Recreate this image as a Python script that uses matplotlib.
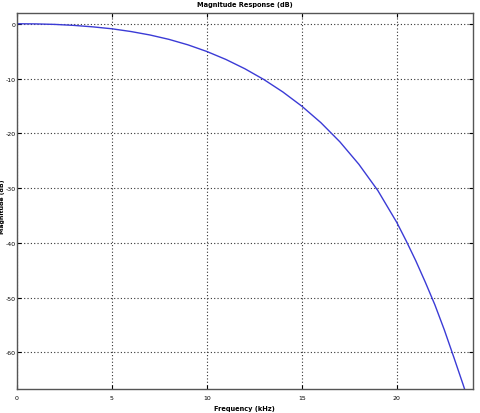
import numpy as np
import matplotlib
matplotlib.use("Agg")
import matplotlib.pyplot as plt

# magnitude response
freq_khz = [0, 1, 2, 3, 4, 5, 6, 7, 8, 9, 10, 11, 12, 13, 14, 15, 16, 17,
            18, 19, 20, 20.5, 21, 21.5, 22, 22.5, 23, 23.5, 23.8]
mag_db = [0, -0.03, -0.12, -0.30, -0.57, -0.92, -1.42, -2.05, -2.85, -3.85,
          -5.07, -6.52, -8.22, -10.19, -12.46, -15.06, -18.06, -21.56,
          -25.66, -30.46, -36.3, -39.7, -43.3, -47.2, -51.3, -55.9, -60.9,
          -66.0, -69.2]

xticks = [0, 5, 10, 15, 20]
yticks = [0, -10, -20, -30, -40, -50, -60]

plt.rcParams['font.family'] = ['Liberation Sans Narrow', 'DejaVu Sans Condensed', 'DejaVu Sans']

fig = plt.figure(figsize=(4.8, 4.14), dpi=100)
ax = fig.add_axes([0.0354, 0.058, 0.9496, 0.908])

ax.plot(freq_khz, mag_db, color='#3b3bd6', lw=1.0)

ax.set_xlim(0, 24)
ax.set_ylim(-66.7, 1.95)
ax.set_xticks(xticks)
ax.set_yticks(yticks)
ax.set_xticklabels([str(t) for t in xticks])
ax.set_yticklabels([str(t) for t in yticks])
ax.tick_params(direction='in', length=3, width=0.8, labelsize=4.5,
               top=True, right=True)
ax.tick_params(axis='y', pad=1)
ax.tick_params(axis='x', pad=4)
ax.grid(True, color='#333333', linestyle=(0, (1, 2)), lw=0.8)
for s in ax.spines.values():
    s.set_linewidth(1.0)
    s.set_color('#555555')

fig.text(0.51, 0.988, 'Magnitude Response (dB)', fontsize=4.8, fontweight='bold',
         ha='center', va='center')
fig.text(0.51, 0.012, 'Frequency (kHz)', fontsize=4.8, fontweight='bold',
         ha='center', va='center')
fig.text(0.006, 0.5, 'Magnitude (dB)', fontsize=4.5, fontweight='bold',
         ha='center', va='center', rotation=90)

fig.savefig('out.png', dpi=100)
